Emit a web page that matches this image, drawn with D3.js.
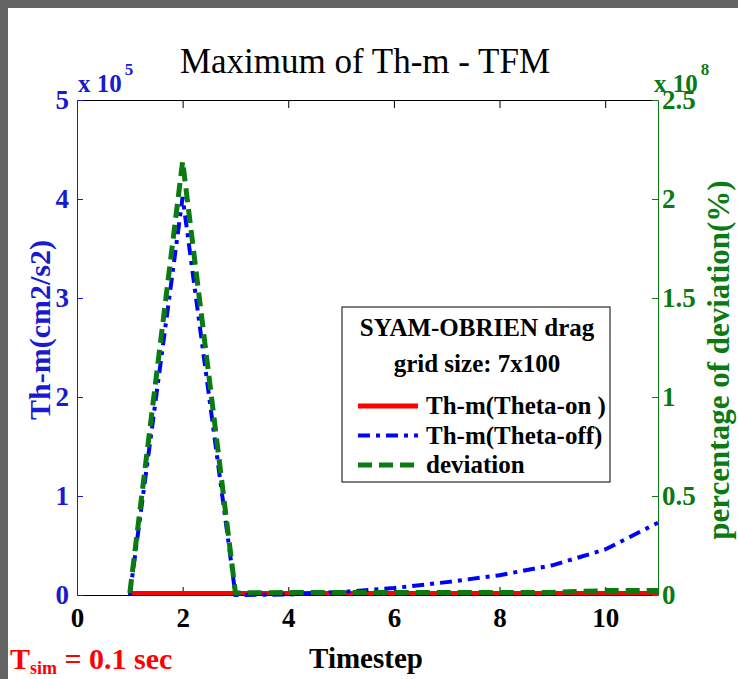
<!DOCTYPE html>
<html>
<head>
<meta charset="utf-8">
<script src="https://cdn.jsdelivr.net/npm/d3@7"></script>
<style>
  html, body { margin: 0; padding: 0; background: #fff; }
  svg { display: block; }
  text { font-family: "Liberation Serif", "Times New Roman", Times, serif; }
</style>
</head>
<body>
<svg id="chart"></svg>
<script>
// values
const timesteps = [1, 2, 3, 4, 5, 6, 7, 8, 9, 10, 11];
const thetaOn = [0, 0, 0, 0, 0, 0, 0, 0, 0, 0, 0];
const thetaOff = [0, 4.02e5, 0, 0.005e5, 0.03e5, 0.07e5, 0.13e5, 0.2e5, 0.3e5, 0.46e5, 0.73e5];
const deviation = [0, 2.18e8, 0, 0.003e8, 0.003e8, 0.003e8, 0.003e8, 0.003e8, 0.003e8, 0.012e8, 0.012e8];

const xTicks = [0, 2, 4, 6, 8, 10];
const leftTicks = [0, 1, 2, 3, 4, 5];
const rightTicks = [0, 0.5, 1, 1.5, 2, 2.5];

const W = 738, H = 679;
const margin = {top: 100, right: 80, bottom: 84, left: 77};
const blue = '#0000ff', axisBlue = '#1a1ad0', green = '#0a7a12', red = '#ff0000';

const svg = d3.select('#chart').attr('width', W).attr('height', H);

// gray frame on top and left
svg.append('rect').attr('x', 0).attr('y', 0).attr('width', W).attr('height', 8).attr('fill', '#636363');
svg.append('rect').attr('x', 0).attr('y', 0).attr('width', 8).attr('height', H).attr('fill', '#636363');

const x = d3.scaleLinear().domain([0, 11]).range([margin.left, W - margin.right]);
const yL = d3.scaleLinear().domain([0, 5e5]).range([H - margin.bottom, margin.top]);
const yR = d3.scaleLinear().domain([0, 2.5e8]).range([H - margin.bottom, margin.top]);

const plotBottom = H - margin.bottom, plotTop = margin.top;

// axes: ticks point inward, labels in Times bold
const tickFont = g => g.selectAll('text')
  .style('font-size', '27px').style('font-weight', 'bold');

const xAx = svg.append('g').attr('transform', `translate(0,${plotBottom})`)
  .call(d3.axisBottom(x).tickValues(xTicks).tickSize(-8).tickPadding(13).tickSizeOuter(0));
xAx.select('.domain').attr('stroke', '#000');
xAx.selectAll('line').attr('stroke', '#000');
xAx.selectAll('text').attr('fill', '#000').attr('dy', '0.72em');
xAx.call(tickFont);

const xTop = svg.append('g').attr('transform', `translate(0,${plotTop})`)
  .call(d3.axisTop(x).tickValues(xTicks).tickSize(-8).tickFormat('').tickSizeOuter(0));
xTop.select('.domain').attr('stroke', '#000');

const lAx = svg.append('g').attr('transform', `translate(${margin.left},0)`)
  .call(d3.axisLeft(yL).tickValues(leftTicks.map(d => d * 1e5)).tickFormat(d => d / 1e5)
    .tickSize(-6).tickPadding(8).tickSizeOuter(0));
lAx.select('.domain').attr('stroke', axisBlue);
lAx.selectAll('line').attr('stroke', axisBlue);
lAx.selectAll('text').attr('fill', axisBlue);
lAx.call(tickFont);

const rAx = svg.append('g').attr('transform', `translate(${W - margin.right},0)`)
  .call(d3.axisRight(yR).tickValues(rightTicks.map(d => d * 1e8)).tickFormat(d => d / 1e8)
    .tickSize(-6).tickPadding(4).tickSizeOuter(0));
rAx.select('.domain').attr('stroke', green);
rAx.selectAll('line').attr('stroke', green);
rAx.selectAll('text').attr('fill', green);
rAx.call(tickFont);

// series
const lineL = d3.line().x((d, i) => x(timesteps[i])).y(d => yL(d));
const lineR = d3.line().x((d, i) => x(timesteps[i])).y(d => yR(d));

svg.append('path').datum(thetaOn).attr('d', lineL)
  .attr('fill', 'none').attr('stroke', red).attr('stroke-width', 4).attr('transform', 'translate(0,-2)');
svg.append('path').datum(thetaOff).attr('d', lineL)
  .attr('fill', 'none').attr('stroke', blue).attr('stroke-width', 4)
  .attr('stroke-dasharray', '12,6,4,6');
svg.append('path').datum(deviation).attr('d', lineR)
  .attr('fill', 'none').attr('stroke', green).attr('stroke-width', 5)
  .attr('stroke-dasharray', '14,7').attr('transform', 'translate(0,-2)');

// exponent labels
const expL = svg.append('text').attr('x', 78).attr('y', 92).attr('fill', axisBlue)
  .style('font-size', '25px').style('font-weight', 'bold');
expL.append('tspan').text('x 10');
expL.append('tspan').attr('dy', -17).attr('dx', 3).style('font-size', '17px').text('5');

const expR = svg.append('text').attr('x', 654).attr('y', 92).attr('fill', green)
  .style('font-size', '25px').style('font-weight', 'bold');
expR.append('tspan').text('x 10');
expR.append('tspan').attr('dy', -17).attr('dx', 3).style('font-size', '17px').text('8');

// title and axis labels
svg.append('text').attr('x', 365).attr('y', 73).attr('text-anchor', 'middle')
  .style('font-size', '35px').text('Maximum of Th-m - TFM');

svg.append('text').attr('x', 366).attr('y', 668).attr('text-anchor', 'middle')
  .style('font-size', '29px').style('font-weight', 'bold').text('Timestep');

svg.append('text').attr('transform', 'translate(50,330) rotate(-90)').attr('text-anchor', 'middle')
  .attr('fill', axisBlue).style('font-size', '30px').style('font-weight', 'bold').text('Th-m(cm2/s2)');

svg.append('text').attr('transform', 'translate(729,360) rotate(-90)').attr('text-anchor', 'middle')
  .attr('fill', green).style('font-size', '31px').style('font-weight', 'bold').text('percentage of deviation(%)');

const tsim = svg.append('text').attr('x', 10).attr('y', 669).attr('fill', red)
  .style('font-size', '30px').style('font-weight', 'bold');
tsim.append('tspan').text('T');
tsim.append('tspan').attr('dy', 5).style('font-size', '18px').text('sim');
tsim.append('tspan').attr('dy', -5).text(' = 0.1 sec');

// legend
const leg = svg.append('g');
leg.append('rect').attr('x', 342).attr('y', 307).attr('width', 268).attr('height', 175)
  .attr('fill', '#fff').attr('stroke', '#000').attr('stroke-width', 1);
leg.append('text').attr('x', 477).attr('y', 336).attr('text-anchor', 'middle')
  .style('font-size', '25px').style('font-weight', 'bold').text('SYAM-OBRIEN drag');
leg.append('text').attr('x', 477).attr('y', 372).attr('text-anchor', 'middle')
  .style('font-size', '25px').style('font-weight', 'bold').text('grid size: 7x100');

const legItems = [
  {label: 'Th-m(Theta-on )', color: red, dash: null, width: 5},
  {label: 'Th-m(Theta-off)', color: blue, dash: '12,6,4,6', width: 4},
  {label: 'deviation', color: green, dash: '14,7', width: 5}
];
legItems.forEach((d, i) => {
  const yy = 406 + i * 29.5;
  leg.append('line').attr('x1', 358).attr('x2', 418).attr('y1', yy).attr('y2', yy)
    .attr('stroke', d.color).attr('stroke-width', d.width).attr('stroke-dasharray', d.dash);
  leg.append('text').attr('x', 426).attr('y', yy + 8)
    .style('font-size', '25px').style('font-weight', 'bold').text(d.label);
});
</script>
</body>
</html>
